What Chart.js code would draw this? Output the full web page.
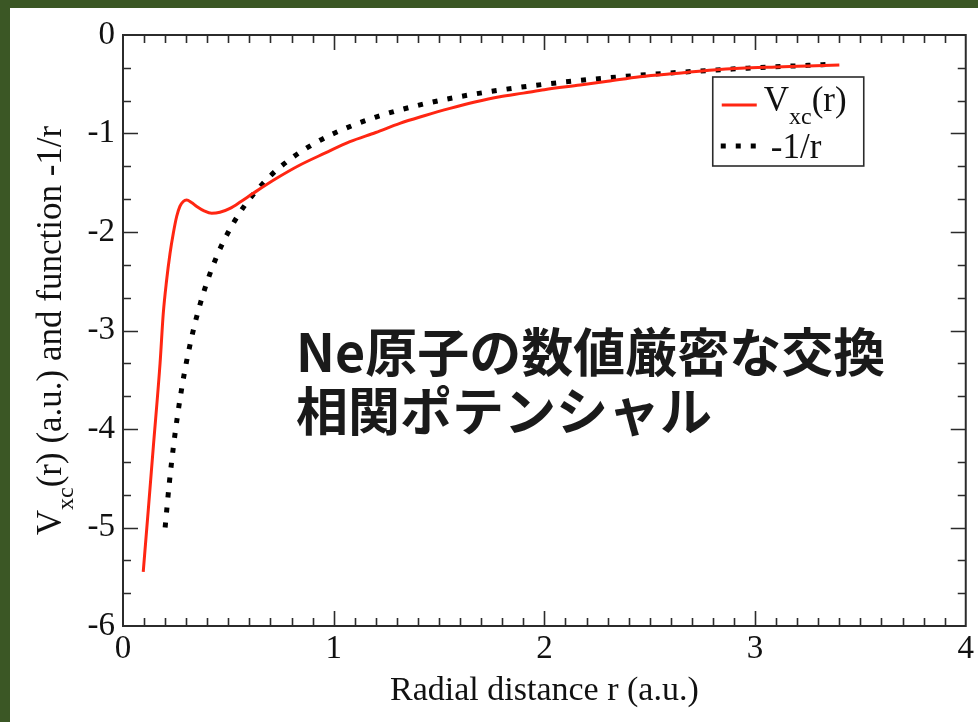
<!DOCTYPE html>
<html>
<head>
<meta charset="utf-8">
<script src="https://cdn.jsdelivr.net/npm/chart.js@4"></script>
<style>
  html, body { margin: 0; padding: 0; background: #3b5725; }
  #wrap { width: 978px; height: 722px; position: relative; }
  canvas { display: block; }
</style>
</head>
<body>
<div id="wrap"><canvas id="c" width="978" height="722"></canvas></div>
<script>
// ---- data ----
const vxcR = [0.096,0.12,0.144,0.176,0.191,0.207,0.223,0.239,0.255,0.27,0.286,0.302,0.325,0.35,0.385,0.421,0.46,0.508,0.56,0.618,0.729,0.84,0.958,1.077,1.2,1.314,1.43,1.552,1.67,1.789,1.9,2.0,2.17,2.3,2.453,2.65,2.8,2.928,3.1,3.25,3.4];
const vxcV = [-5.45,-4.82,-4.18,-3.33,-2.83,-2.49,-2.22,-2.01,-1.84,-1.74,-1.69,-1.675,-1.70,-1.74,-1.785,-1.81,-1.80,-1.76,-1.69,-1.607,-1.455,-1.32,-1.20,-1.083,-0.99,-0.897,-0.82,-0.745,-0.68,-0.626,-0.59,-0.555,-0.508,-0.47,-0.423,-0.385,-0.355,-0.338,-0.325,-0.315,-0.305];
const invR = [0.2,0.22,0.24,0.26,0.28,0.3,0.33,0.36,0.4,0.45,0.5,0.55,0.6,0.7,0.8,0.9,1.0,1.2,1.4,1.6,1.8,2.0,2.3,2.6,3.0,3.38];
const invV = [-5,-4.545,-4.167,-3.846,-3.571,-3.333,-3.03,-2.778,-2.5,-2.222,-2,-1.818,-1.667,-1.429,-1.25,-1.111,-1,-0.833,-0.714,-0.625,-0.556,-0.5,-0.435,-0.385,-0.333,-0.296];
const xTickLabels = ['0','1','2','3','4'];
const yTickLabels = ['0','-1','-2','-3','-4','-5','-6'];
const seriesNames = ['V_xc(r)', '-1/r'];
const xTitle = 'Radial distance r (a.u.)';
const yTitleParts = ['V', 'xc', '(r) (a.u.) and function -1/r'];
const overlayLines = ['Ne原子の数値厳密な交換', '相関ポテンシャル'];

const RED = 'rgb(255,38,18)';
const SERIF = '"Liberation Serif", "Times New Roman", serif';
const FRAME = '#2b2b2b';

const framePlugin = {
  id: 'framePlugin',
  beforeDraw(chart) {
    const ctx = chart.ctx;
    ctx.save();
    ctx.fillStyle = '#3b5725';
    ctx.fillRect(0, 0, chart.width, chart.height);
    ctx.fillStyle = '#ffffff';
    ctx.fillRect(10, 8, chart.width - 10, chart.height - 8);
    ctx.restore();
  },
  afterDatasetsDraw(chart) {
    const ctx = chart.ctx;
    const a = chart.chartArea;
    const xs = chart.scales.x, ys = chart.scales.y;
    ctx.save();
    ctx.strokeStyle = FRAME;
    ctx.lineWidth = 2;
    ctx.strokeRect(a.left, a.top, a.right - a.left, a.bottom - a.top);
    ctx.lineWidth = 1.6;
    ctx.beginPath();
    for (let i = 1; i < 40; i++) {
      const px = Math.round(xs.getPixelForValue(i / 10)) + 0.5;
      const len = (i % 10 === 0) ? 15 : 8;
      ctx.moveTo(px, a.bottom); ctx.lineTo(px, a.bottom - len);
      ctx.moveTo(px, a.top); ctx.lineTo(px, a.top + len);
    }
    for (let j = 1; j < 18; j++) {
      const py = Math.round(ys.getPixelForValue(-j / 3)) + 0.5;
      const len = (j % 3 === 0) ? 15 : 8;
      ctx.moveTo(a.left, py); ctx.lineTo(a.left + len, py);
      ctx.moveTo(a.right, py); ctx.lineTo(a.right - len, py);
    }
    ctx.stroke();
    ctx.restore();
  },
  afterDraw(chart) {
    const ctx = chart.ctx;
    const a = chart.chartArea;
    ctx.save();
    ctx.fillStyle = '#111';
    ctx.font = '34px ' + SERIF;
    ctx.textAlign = 'center';
    ctx.textBaseline = 'alphabetic';
    ctx.fillText(xTitle, (a.left + a.right) / 2, 700);
    const big = '35px ' + SERIF, small = '24px ' + SERIF;
    ctx.font = big; const w0 = ctx.measureText(yTitleParts[0]).width;
    const w2 = ctx.measureText(yTitleParts[2]).width;
    ctx.font = small; const w1 = ctx.measureText(yTitleParts[1]).width;
    const total = w0 + w1 + w2;
    ctx.translate(61, (a.top + a.bottom) / 2);
    ctx.rotate(-Math.PI / 2);
    ctx.textAlign = 'left';
    let s = -total / 2;
    ctx.font = big; ctx.fillText(yTitleParts[0], s, 0);
    ctx.font = small; ctx.fillText(yTitleParts[1], s + w0, 12);
    ctx.font = big; ctx.fillText(yTitleParts[2], s + w0 + w1, 0);
    ctx.restore();

    // legend
    ctx.save();
    const bx = a.right - 253, by = a.top + 42, bw = 151, bh = 89;
    ctx.fillStyle = '#fff';
    ctx.fillRect(bx, by, bw, bh);
    ctx.strokeStyle = FRAME; ctx.lineWidth = 1.6;
    ctx.strokeRect(bx, by, bw, bh);
    const ds = chart.data.datasets;
    ctx.strokeStyle = ds[0].borderColor; ctx.lineWidth = 3;
    ctx.beginPath(); ctx.moveTo(bx + 9, by + 28); ctx.lineTo(bx + 44, by + 28); ctx.stroke();
    ctx.strokeStyle = ds[1].borderColor; ctx.lineWidth = 5;
    ctx.setLineDash(ds[1].borderDash);
    ctx.beginPath(); ctx.moveTo(bx + 8, by + 69); ctx.lineTo(bx + 46, by + 69); ctx.stroke();
    ctx.setLineDash([]);
    ctx.fillStyle = '#111';
    ctx.textAlign = 'left'; ctx.textBaseline = 'alphabetic';
    ctx.font = '35px ' + SERIF;
    ctx.fillText('V', bx + 51, by + 34);
    let wv = ctx.measureText('V').width;
    ctx.font = '24px ' + SERIF;
    ctx.fillText('xc', bx + 51 + wv, by + 47);
    let wx = ctx.measureText('xc').width;
    ctx.font = '35px ' + SERIF;
    ctx.fillText('(r)', bx + 51 + wv + wx, by + 34);
    ctx.fillText(seriesNames[1], bx + 58, by + 81);
    ctx.restore();

    // Japanese overlay
    ctx.save();
    ctx.fillStyle = '#1a1a1a';
    ctx.font = 'bold 52px "Noto Sans CJK JP", sans-serif';
    ctx.textAlign = 'left'; ctx.textBaseline = 'middle';
    ctx.fillText(overlayLines[0], 296, 352);
    ctx.fillText(overlayLines[1], 296, 411);
    ctx.restore();
  }
};

const ctxEl = document.getElementById('c');
new Chart(ctxEl, {
  type: 'scatter',
  data: {
    datasets: [
      {
        label: seriesNames[0],
        data: vxcR.map((r, i) => ({ x: r, y: vxcV[i] })),
        showLine: true,
        borderColor: RED,
        borderWidth: 3,
        pointRadius: 0,
        cubicInterpolationMode: 'monotone',
        fill: false
      },
      {
        label: seriesNames[1],
        data: invR.map((r, i) => ({ x: r, y: invV[i] })),
        showLine: true,
        borderColor: '#000',
        borderWidth: 5,
        borderDash: [5, 10],
        borderCapStyle: 'butt',
        pointRadius: 0,
        cubicInterpolationMode: 'monotone',
        fill: false
      }
    ]
  },
  options: {
    responsive: false,
    animation: false,
    devicePixelRatio: 1,
    layout: { padding: { top: 35, right: 12, left: 0, bottom: 0 } },
    plugins: { legend: { display: false }, tooltip: { enabled: false } },
    scales: {
      x: {
        type: 'linear', min: 0, max: 4,
        grid: { display: false, drawTicks: false },
        border: { display: false },
        ticks: {
          stepSize: 1, padding: 4, color: '#111',
          font: { family: SERIF, size: 33 },
          maxRotation: 0,
          callback: (v) => xTickLabels[Math.round(v)] ?? ''
        },
        afterFit: (s) => { s.height = 96; }
      },
      y: {
        type: 'linear', min: -6, max: 0,
        grid: { display: false, drawTicks: false },
        border: { display: false },
        ticks: {
          stepSize: 1, padding: 8, color: '#111',
          font: { family: SERIF, size: 33 },
          callback: (v) => yTickLabels[Math.round(-v)] ?? ''
        },
        afterFit: (s) => { s.width = 123; }
      }
    }
  },
  plugins: [framePlugin]
});
</script>
</body>
</html>
